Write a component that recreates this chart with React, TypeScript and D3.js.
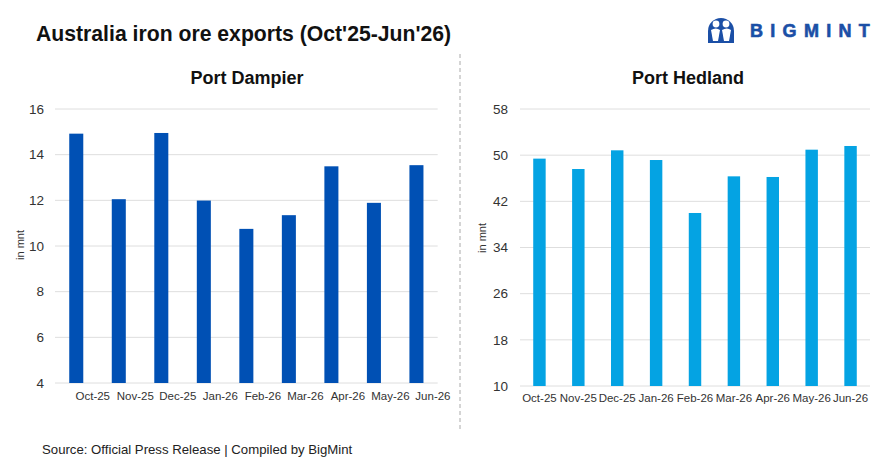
import * as d3 from 'd3';

const months = ['Oct-25', 'Nov-25', 'Dec-25', 'Jan-26', 'Feb-26', 'Mar-26', 'Apr-26', 'May-26', 'Jun-26'];
const dampier = [14.92, 12.05, 14.95, 11.99, 10.75, 11.35, 13.49, 11.89, 13.54];
const hedland = [49.4, 47.6, 50.84, 49.16, 39.98, 46.33, 46.22, 50.95, 51.59];
const dampierTicks = [4, 6, 8, 10, 12, 14, 16];
const hedlandTicks = [10, 18, 26, 34, 42, 50, 58];

const FONT = '"Liberation Sans", Arial, sans-serif';

interface PanelProps {
  title: string;
  titleX: number;
  values: number[];
  ticks: number[];
  color: string;
  x0: number;
  x1: number;
  yTop: number;
  yBottom: number;
  pad: number;
  tickRight: number;
  unitX: number;
  unitY: number;
  labelShift: number;
  labelY: number;
}

function Panel(p: PanelProps) {
  const x = d3
    .scaleBand<string>()
    .domain(months)
    .range([p.x0, p.x1])
    .paddingInner(p.pad)
    .paddingOuter(p.pad / 2);
  const y = d3
    .scaleLinear()
    .domain([p.ticks[0], p.ticks[p.ticks.length - 1]])
    .range([p.yBottom, p.yTop]);

  return (
    <g>
      <text x={p.titleX} y={84} textAnchor="middle" fontFamily={FONT} fontWeight="bold" fontSize={18} fill="#111">
        {p.title}
      </text>
      {/* grid */}
      {p.ticks.map((t) => (
        <line key={t} x1={p.x0} x2={p.x1} y1={y(t)} y2={y(t)} stroke="#dedede" strokeWidth={1} />
      ))}
      {p.ticks.map((t) => (
        <text key={'l' + t} x={p.tickRight} y={y(t)} dy="0.35em" textAnchor="end" fontFamily={FONT} fontSize={13.5} fill="#333">
          {t}
        </text>
      ))}
      <text
        transform={`translate(${p.unitX},${p.unitY}) rotate(-90)`}
        textAnchor="middle"
        dy="0.35em"
        fontFamily={FONT}
        fontSize={11}
        fill="#333"
      >
        in mnt
      </text>
      {/* bars */}
      {p.values.map((v, i) => (
        <rect
          key={months[i]}
          x={x(months[i])}
          y={y(v)}
          width={x.bandwidth()}
          height={y(p.ticks[0]) - y(v)}
          fill={p.color}
        />
      ))}
      {months.map((m) => (
        <text
          key={'x' + m}
          x={(x(m) ?? 0) + x.bandwidth() / 2 + p.labelShift}
          y={p.labelY}
          textAnchor="middle"
          fontFamily={FONT}
          fontSize={11.5}
          fill="#333"
        >
          {m}
        </text>
      ))}
    </g>
  );
}

function Logo() {
  return (
    <g>
      <path d="M708 43 V31 a13 13 0 0 1 26 0 V43 z" fill="#1b4fa6" />
      <circle cx={716} cy={24} r={3.4} fill="#fff" />
      <circle cx={726} cy={24} r={3.4} fill="#fff" />
      <path d="M711 30 q5 -3 9 0 l-2 11 h-5 z" fill="#fff" />
      <path d="M722 30 q5 -3 9 0 l-2 11 h-5 z" fill="#fff" />
      <text
        x={750}
        y={36.5}
        fontFamily={FONT}
        fontWeight="bold"
        fontSize={18}
        letterSpacing={7.3}
        fill="#1b4fa6"
        stroke="#1b4fa6"
        strokeWidth={0.6}
      >
        BIGMINT
      </text>
    </g>
  );
}

export default function App() {
  return (
    <svg width={887} height={476} style={{ position: 'absolute', left: 0, top: 0, background: '#fff' }}>
      <rect width={887} height={476} fill="#fff" />
      <text x={36} y={41} fontFamily={FONT} fontWeight="bold" fontSize={21.2} fill="#111">
        Australia iron ore exports (Oct'25-Jun'26)
      </text>
      <Logo />
      <line x1={460} x2={460} y1={54} y2={431} stroke="#aaa" strokeWidth={1} strokeDasharray="4,3" />
      <Panel
        title="Port Dampier"
        titleX={247}
        values={dampier}
        ticks={dampierTicks}
        color="#0050b4"
        x0={55}
        x1={437.7}
        yTop={109}
        yBottom={383}
        pad={0.67}
        tickRight={44}
        unitX={20}
        unitY={245}
        labelShift={16.5}
        labelY={400}
      />
      <Panel
        title="Port Hedland"
        titleX={688}
        values={hedland}
        ticks={hedlandTicks}
        color="#04a3e3"
        x0={520}
        x1={870}
        yTop={109}
        yBottom={386}
        pad={0.68}
        tickRight={508}
        unitX={482}
        unitY={238}
        labelShift={0}
        labelY={402}
      />
      <text x={42} y={454} fontFamily={FONT} fontSize={13.2} fill="#222">
        Source: Official Press Release | Compiled by BigMint
      </text>
    </svg>
  );
}
